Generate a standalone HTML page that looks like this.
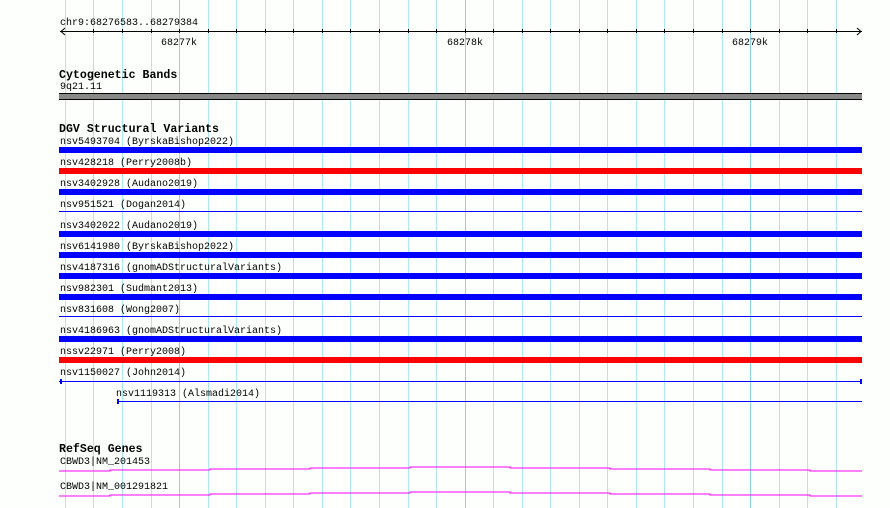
<!DOCTYPE html>
<html><head><meta charset="utf-8"><style>
html,body{margin:0;padding:0;background:#fff;}
svg{display:block;}
text{font-family:"Liberation Mono","DejaVu Sans Mono",monospace;font-size:10px;fill:#000;}
.h{font-weight:bold;font-size:11.6px;}
</style></head><body>
<svg width="890" height="508" viewBox="0 0 890 508" xmlns="http://www.w3.org/2000/svg" shape-rendering="crispEdges">
<rect width="890" height="508" fill="#fdfffd"/>
<g stroke="#aee8ee" stroke-width="1">
<line x1="65.5" y1="0" x2="65.5" y2="508"/><line x1="93.5" y1="0" x2="93.5" y2="508"/><line x1="122.5" y1="0" x2="122.5" y2="508"/><line x1="151.5" y1="0" x2="151.5" y2="508"/>
<line x1="208.5" y1="0" x2="208.5" y2="508"/><line x1="236.5" y1="0" x2="236.5" y2="508"/><line x1="265.5" y1="0" x2="265.5" y2="508"/><line x1="293.5" y1="0" x2="293.5" y2="508"/><line x1="322.5" y1="0" x2="322.5" y2="508"/><line x1="350.5" y1="0" x2="350.5" y2="508"/><line x1="379.5" y1="0" x2="379.5" y2="508"/><line x1="408.5" y1="0" x2="408.5" y2="508"/><line x1="436.5" y1="0" x2="436.5" y2="508"/>
<line x1="493.5" y1="0" x2="493.5" y2="508"/><line x1="522.5" y1="0" x2="522.5" y2="508"/><line x1="550.5" y1="0" x2="550.5" y2="508"/><line x1="579.5" y1="0" x2="579.5" y2="508"/><line x1="607.5" y1="0" x2="607.5" y2="508"/><line x1="636.5" y1="0" x2="636.5" y2="508"/><line x1="664.5" y1="0" x2="664.5" y2="508"/><line x1="693.5" y1="0" x2="693.5" y2="508"/><line x1="722.5" y1="0" x2="722.5" y2="508"/>
<line x1="779.5" y1="0" x2="779.5" y2="508"/><line x1="807.5" y1="0" x2="807.5" y2="508"/><line x1="836.5" y1="0" x2="836.5" y2="508"/>
</g>
<g stroke="#88d2ea" stroke-width="1">
<line x1="179.5" y1="0" x2="179.5" y2="508"/><line x1="465.5" y1="0" x2="465.5" y2="508"/><line x1="750.5" y1="0" x2="750.5" y2="508"/>
</g>
<text x="60" y="25">chr9:68276583..68279384</text>
<g stroke="#000" stroke-width="1">
<line x1="60" y1="31.5" x2="862" y2="31.5"/>
<polyline points="65,28 61,31.5 65,35" fill="none" shape-rendering="auto"/>
<polyline points="857,28 861,31.5 857,35" fill="none" shape-rendering="auto"/>
<path d="M93.5 29v4M122.5 29v4M151.5 29v4M179.5 29v4M208.5 29v4M236.5 29v4M265.5 29v4M293.5 29v4M322.5 29v4M350.5 29v4M379.5 29v4M408.5 29v4M436.5 29v4M465.5 29v4M493.5 29v4M522.5 29v4M550.5 29v4M579.5 29v4M607.5 29v4M636.5 29v4M664.5 29v4M693.5 29v4M722.5 29v4M750.5 29v4M779.5 29v4M807.5 29v4M836.5 29v4"/>
</g>
<text x="179" y="45" text-anchor="middle">68277k</text>
<text x="465" y="45" text-anchor="middle">68278k</text>
<text x="750" y="45" text-anchor="middle">68279k</text>
<text class="h" x="59" y="78">Cytogenetic Bands</text>
<text x="60" y="89">9q21.11</text>
<rect x="59" y="93" width="803" height="7" fill="#000"/>
<rect x="59" y="94" width="803" height="5" fill="#888"/>
<text class="h" x="59" y="132">DGV Structural Variants</text>
<text x="60" y="144">nsv5493704 (ByrskaBishop2022)</text>
<rect x="59" y="147" width="803" height="6" fill="#0000ff"/>
<text x="60" y="165">nsv428218 (Perry2008b)</text>
<rect x="59" y="168" width="803" height="6" fill="#ff0000"/>
<text x="60" y="186">nsv3402928 (Audano2019)</text>
<rect x="59" y="189" width="803" height="6" fill="#0000ff"/>
<text x="60" y="207">nsv951521 (Dogan2014)</text>
<rect x="59" y="211" width="803" height="1" fill="#0000ff"/>
<text x="60" y="228">nsv3402022 (Audano2019)</text>
<rect x="59" y="231" width="803" height="6" fill="#0000ff"/>
<text x="60" y="249">nsv6141980 (ByrskaBishop2022)</text>
<rect x="59" y="252" width="803" height="6" fill="#0000ff"/>
<text x="60" y="270">nsv4187316 (gnomADStructuralVariants)</text>
<rect x="59" y="273" width="803" height="6" fill="#0000ff"/>
<text x="60" y="291">nsv982301 (Sudmant2013)</text>
<rect x="59" y="294" width="803" height="6" fill="#0000ff"/>
<text x="60" y="312">nsv831608 (Wong2007)</text>
<rect x="59" y="316" width="803" height="1" fill="#0000ff"/>
<text x="60" y="333">nsv4186963 (gnomADStructuralVariants)</text>
<rect x="59" y="336" width="803" height="6" fill="#0000ff"/>
<text x="60" y="354">nssv22971 (Perry2008)</text>
<rect x="59" y="357" width="803" height="6" fill="#ff0000"/>
<text x="60" y="375">nsv1150027 (John2014)</text>
<rect x="59" y="381" width="803" height="1" fill="#0000ff"/>
<rect x="60" y="379" width="2" height="5" fill="#0000ff"/>
<rect x="860" y="379" width="2" height="5" fill="#0000ff"/>
<text x="116" y="396">nsv1119313 (Alsmadi2014)</text>
<rect x="117" y="401" width="745" height="1" fill="#0000ff"/>
<rect x="117" y="399" width="2" height="5" fill="#0000ff"/>
<text class="h" x="59" y="452">RefSeq Genes</text>
<text x="60" y="464">CBWD3|NM_201453</text>
<path d="M59 471H110V470H210V469H310V468H410V467H510V468H610V469H710V470H810V471H862" stroke="#ff00ff" fill="none" stroke-width="1"/>
<text x="60" y="489">CBWD3|NM_001291821</text>
<path d="M59 496H110V495H210V494H310V493H410V492H510V493H610V494H710V495H810V496H862" stroke="#ff00ff" fill="none" stroke-width="1"/>
</svg>
</body></html>
